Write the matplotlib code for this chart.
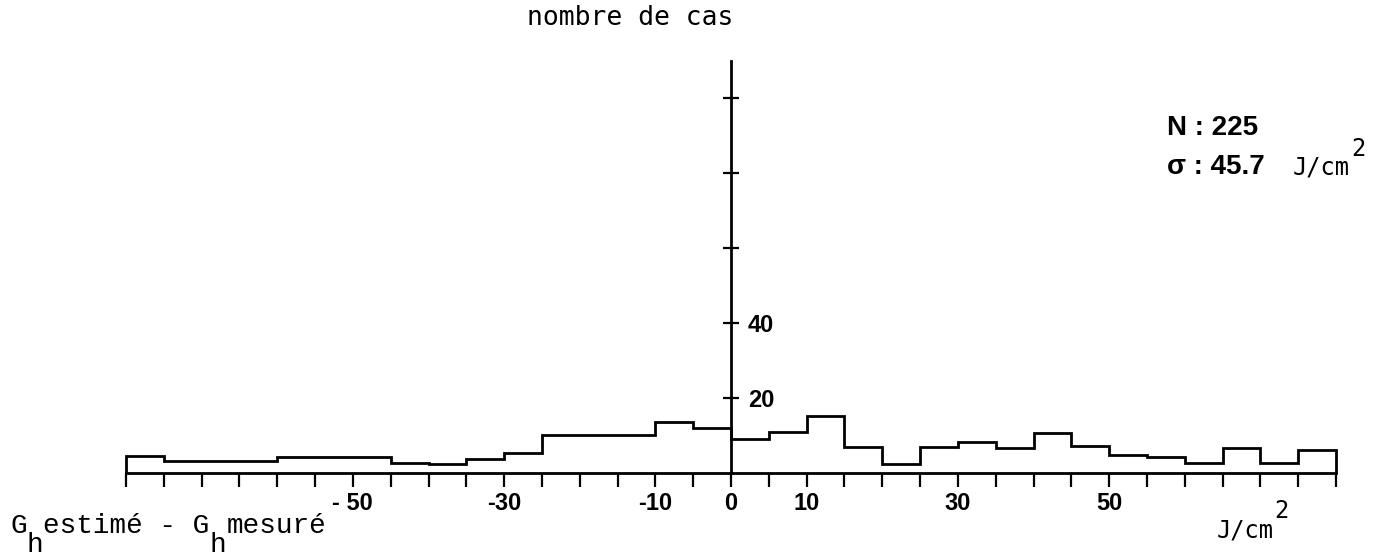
import matplotlib.pyplot as plt
import numpy as np

# histogram of G_h estimated - G_h measured (J/cm2), bins of 5
bin_edges = np.arange(-80, 85, 5)
counts = [4.5, 3.2, 3.2, 3.2, 4.3, 4.3, 4.3, 2.6,
          2.4, 3.7, 5.3, 10.1, 10.1, 10.1, 13.6, 12.0,
          9.0, 11.0, 15.2, 7.0, 2.4, 7.0, 8.3, 6.7,
          10.7, 7.2, 4.8, 4.3, 2.7, 6.7, 2.7, 6.1]

x_labelled = [-50, -30, -10, 0, 10, 30, 50]
x_labels = ["- 50", "-30", "-10", "0", "10", "30", "50"]
y_ticks = [20, 40, 60, 80, 100]
y_labels = ["20", "40", "", "", ""]

W, H = 1374, 559
fig = plt.figure(figsize=(W / 100, H / 100), dpi=100)
ax = fig.add_axes([126 / W, (H - 473) / H, 1210 / W, 412.5 / H])

ax.stairs(counts, bin_edges, baseline=0, fill=False, color="black", lw=2.0, clip_on=False)

ax.set_xlim(-80, 80)
ax.set_ylim(0, 110)

# axis lines: x axis at y=0, y axis at x=0 (right spine so labels sit on the right)
ax.spines["top"].set_visible(False)
ax.spines["left"].set_visible(False)
ax.spines["right"].set_position(("data", 0))
ax.spines["bottom"].set_linewidth(2.0)
ax.spines["right"].set_linewidth(2.0)
ax.yaxis.set_ticks_position("right")
ax.xaxis.set_ticks_position("bottom")

tick_font = {"family": "Liberation Sans", "weight": "bold", "size": 17}
ax.set_xticks(np.arange(-80, 85, 5))
ax.set_xticklabels([x_labels[x_labelled.index(v)] if v in x_labelled else "" for v in range(-80, 85, 5)],
                   fontdict=tick_font)
ax.set_yticks(y_ticks)
ax.set_yticklabels(y_labels, fontdict=tick_font)
ax.tick_params(axis="x", direction="out", length=10, width=1.6, pad=4)
ax.tick_params(axis="y", direction="inout", length=12, width=1.6, pad=6)
ax.patch.set_visible(False)


def fpos(x, y):
    return x / W, 1 - y / H


mono = "DejaVu Sans Mono"
fig.text(*fpos(630, 18), "nombre de cas", family=mono, size=19, ha="center", va="center")

# unit at the end of the x axis
fig.text(*fpos(1217, 537), "J/cm", family=mono, size=17, ha="left", va="baseline")
fig.text(*fpos(1274, 518), "2", family=mono, size=17, ha="left", va="baseline")

# statistics
stat_font = dict(family="Liberation Sans", weight="bold", size=20, ha="left", va="baseline")
fig.text(*fpos(1167, 135), "N : 225", **stat_font)
fig.text(*fpos(1167, 174), "σ : 45.7", **stat_font)
fig.text(*fpos(1293, 175), "J/cm", family=mono, size=17, ha="left", va="baseline")
fig.text(*fpos(1351, 156), "2", family=mono, size=17, ha="left", va="baseline")

# x axis title with full-size lowered subscripts (monospace, so advance is fixed)
courier = "Liberation Mono"
adv = 0.6 * 20 * 100 / 72
x0 = 10
title_parts = [("G", 0, 533), ("h", 1, 552), ("estimé - G", 2, 533), ("h", 12, 552), ("mesuré", 13, 533)]
for txt, col, base in title_parts:
    fig.text(*fpos(x0 + col * adv, base), txt, family=courier, size=20, ha="left", va="baseline")

fig.savefig("out.png", dpi=100)
